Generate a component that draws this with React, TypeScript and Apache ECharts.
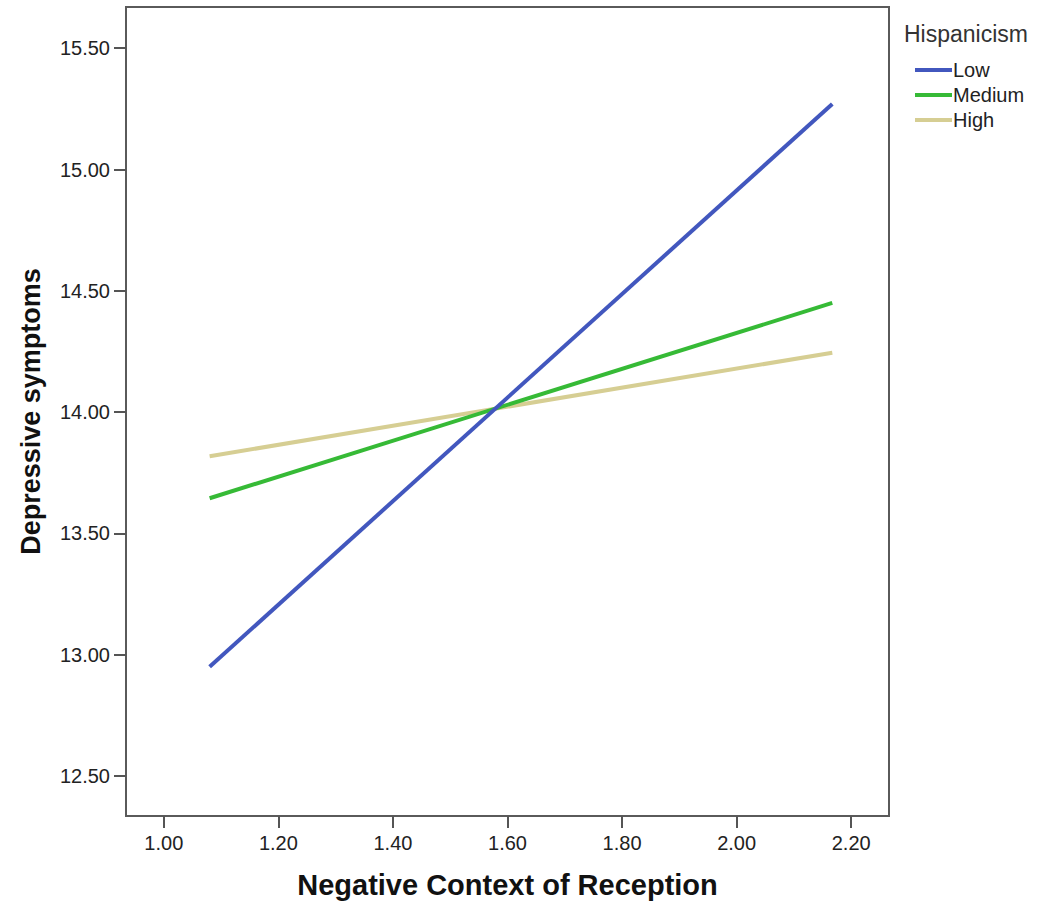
import React, { useEffect, useRef } from "react";
import * as echarts from "echarts";

const seriesNames = ["Low", "Medium", "High"];
const xValues = [1.08, 2.167];
const lowValues = [12.95, 15.27];
const mediumValues = [13.645, 14.45];
const highValues = [13.818, 14.245];
const xTicks = [1.0, 1.2, 1.4, 1.6, 1.8, 2.0, 2.2];
const yTicks = [12.5, 13.0, 13.5, 14.0, 14.5, 15.0, 15.5];
const colors = ["#4257BE", "#36BA36", "#D6CE93"];

export default function App() {
  const ref = useRef<HTMLDivElement>(null);
  useEffect(() => {
    if (!ref.current) return;
    const chart = echarts.init(ref.current, null, { renderer: "svg" });
    const all = [lowValues, mediumValues, highValues];
    chart.setOption({
      animation: false,
      backgroundColor: "#ffffff",
      textStyle: { fontFamily: "Liberation Sans, Arial, sans-serif" },
      title: {
        text: "Hispanicism",
        left: 899,
        top: 17,
        textStyle: { fontSize: 23, fontWeight: "normal", color: "#333", fontFamily: "Liberation Sans, Arial, sans-serif" },
      },
      legend: {
        orient: "vertical",
        left: 910,
        top: 55,
        itemWidth: 37,
        itemHeight: 4,
        itemGap: 5,
        icon: "rect",
        data: seriesNames,
        textStyle: { fontSize: 20, color: "#222", padding: [0, 0, 0, -4] },
      },
      grid: {
        left: 126,
        top: 7,
        width: 763,
        height: 809,
        show: true,
        borderColor: "#5a5a5a",
        borderWidth: 2,
        containLabel: false,
      },
      xAxis: {
        type: "value",
        min: 0.934,
        max: 2.266,
        name: "Negative Context of Reception",
        nameLocation: "middle",
        nameGap: 54,
        nameTextStyle: { fontSize: 29, fontWeight: "bold", color: "#111" },
        axisLine: { show: false },
        splitLine: { show: false },
        axisTick: { show: true, length: 12, lineStyle: { color: "#555", width: 2 }, customValues: xTicks },
        axisLabel: {
          fontSize: 20,
          color: "#222",
          margin: 17,
          customValues: xTicks,
          formatter: (v: number) => v.toFixed(2),
        },
      },
      yAxis: {
        type: "value",
        min: 12.335,
        max: 15.67,
        name: "Depressive symptoms",
        nameLocation: "middle",
        nameGap: 82,
        nameTextStyle: { fontSize: 27, fontWeight: "bold", color: "#111" },
        axisLine: { show: false },
        splitLine: { show: false },
        axisTick: { show: true, length: 12, lineStyle: { color: "#555", width: 2 }, customValues: yTicks },
        axisLabel: {
          fontSize: 20,
          color: "#222",
          margin: 16,
          customValues: yTicks,
          formatter: (v: number) => v.toFixed(2),
        },
      },
      series: seriesNames.map((name, i) => ({
        name,
        type: "line",
        data: xValues.map((x, j) => [x, all[i][j]]),
        showSymbol: false,
        symbol: "none",
        lineStyle: { width: 4, color: colors[i] },
        itemStyle: { color: colors[i] },
        z: 3 - i,
      })),
    });
    return () => chart.dispose();
  }, []);
  return <div ref={ref} style={{ position: "absolute", left: 0, top: 0, width: 1046, height: 905 }} />;
}
